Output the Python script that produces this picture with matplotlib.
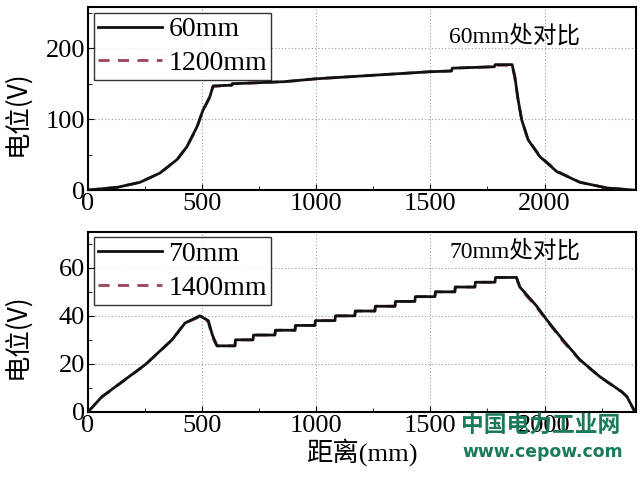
import matplotlib
matplotlib.use("Agg")
import matplotlib.pyplot as plt
from matplotlib.ticker import MultipleLocator

# top panel: potential along the line at 60 mm, two models
top_x = [0, 130, 228, 315, 390, 433, 477, 504, 534, 548, 630, 632, 863, 1000, 1250, 1500,
         1592, 1596, 1780, 1784, 1858, 1870, 1884, 1900, 1928, 1980, 2054, 2155, 2273, 2390]
top_60 = [0, 4, 11, 24, 43, 61, 89, 113, 132, 147, 148, 150, 153, 157, 162, 167,
          168, 172, 174, 177, 177, 160, 128, 99, 71, 47, 26, 11, 3, 0]
top_1200 = [0, 4, 11, 24, 43, 61, 88, 112, 131, 146, 148, 150, 153, 157, 162, 167,
            168, 172, 174, 176, 176, 158, 127, 99, 71, 48, 27, 11, 3, 0]

# bottom panel: potential along the line at 70 mm
bot_x = [0, 61, 250, 368, 425, 490, 527, 545, 565, 644, 646, 723, 725, 819, 821, 907, 909,
         994, 996, 1082, 1084, 1169, 1171, 1257, 1259, 1345, 1347, 1432, 1434, 1520, 1522,
         1607, 1609, 1695, 1697, 1783, 1785, 1877, 1892, 1966, 2010, 2080, 2155, 2243,
         2339, 2361, 2396]
bot_70 = [0, 6.3, 19.6, 30, 37, 40, 38, 32, 27.5, 27.5, 30, 30, 32, 32, 34, 34, 36,
          36, 38, 38, 40, 40, 42, 42, 44, 44, 46, 46, 48, 48, 50,
          50, 52, 52, 54, 54, 56, 56, 52, 44, 38.3, 30, 21.7, 14.6,
          8.3, 6.3, 0]
bot_1400 = [0, 6.2, 19.5, 30, 37, 39.6, 37.5, 31, 27.5, 27.5, 30, 30, 32, 32, 34, 34, 36,
            36, 38, 38, 40, 40, 42, 42, 44, 44, 46, 46, 48, 48, 50,
            50, 52, 52, 54, 54, 56, 56, 51.5, 43.5, 38, 29.5, 21.5, 14.5,
            8.3, 6.3, 0]

plt.rcParams["font.family"] = ["Liberation Serif", "Noto Sans CJK SC"]

fig = plt.figure(figsize=(6.4, 4.8), dpi=100)
ax1 = fig.add_axes([0.1375, 0.604, 0.856, 0.381])
ax2 = fig.add_axes([0.1375, 0.142, 0.856, 0.375])

red = "#9a4456"


def style(ax, ymax, ymajor, yminor):
    ax.set_xlim(0, 2400)
    ax.set_ylim(0, ymax)
    ax.xaxis.set_major_locator(MultipleLocator(500))
    ax.xaxis.set_minor_locator(MultipleLocator(250))
    ax.yaxis.set_major_locator(MultipleLocator(ymajor))
    ax.yaxis.set_minor_locator(MultipleLocator(yminor))
    ax.tick_params(which="both", direction="in", labelsize=19, pad=2)
    ax.tick_params(which="major", length=4)
    ax.tick_params(which="minor", length=3)
    ax.grid(True, which="major", linestyle=(0, (1, 2)), color="#999999", linewidth=0.8)
    for s in ax.spines.values():
        s.set_linewidth(1.5)
    ax.set_ylabel("电位(V)", fontsize=19, family=["Noto Sans CJK SC"])
    ax.yaxis.set_label_coords(-0.105, 0.42)


def add_legend(ax):
    leg = ax.legend(loc="upper left", fontsize=20, handlelength=2.3, frameon=True,
                    fancybox=False, edgecolor="black", borderpad=0.15, labelspacing=0.3,
                    handletextpad=0.25, borderaxespad=0.2)
    leg.get_frame().set_linewidth(1)


ax1.plot(top_x, top_60, color="#111111", lw=2, label="60mm", zorder=3)
ax1.plot(top_x, top_1200, color=red, lw=2, ls=(0, (4, 3)), label="1200mm", zorder=2)
style(ax1, 258, 100, 50)
ax1.text(1870, 216, "60mm处对比", ha="center", va="center", fontsize=17)
add_legend(ax1)

ax2.plot(bot_x, bot_70, color="#111111", lw=2, label="70mm", zorder=3)
ax2.plot(bot_x, bot_1400, color=red, lw=2, ls=(0, (4, 3)), label="1400mm", zorder=2)
style(ax2, 75, 20, 10)
ax2.text(1870, 67, "70mm处对比", ha="center", va="center", fontsize=17)
add_legend(ax2)
ax2.set_xlabel("距离(mm)", fontsize=19, labelpad=1)

# watermark
fig.text(0.845, 0.115, "中国电力工业网", ha="center", va="center", fontsize=16.4,
         fontweight="bold", color="#1b7a5c", family=["Noto Sans CJK SC"])
fig.text(0.848, 0.058, "www.cepow.com", ha="center", va="center", fontsize=12.4,
         fontweight="bold", color="#1b7a5c", family=["DejaVu Sans"])

fig.savefig("out.png", dpi=100)
